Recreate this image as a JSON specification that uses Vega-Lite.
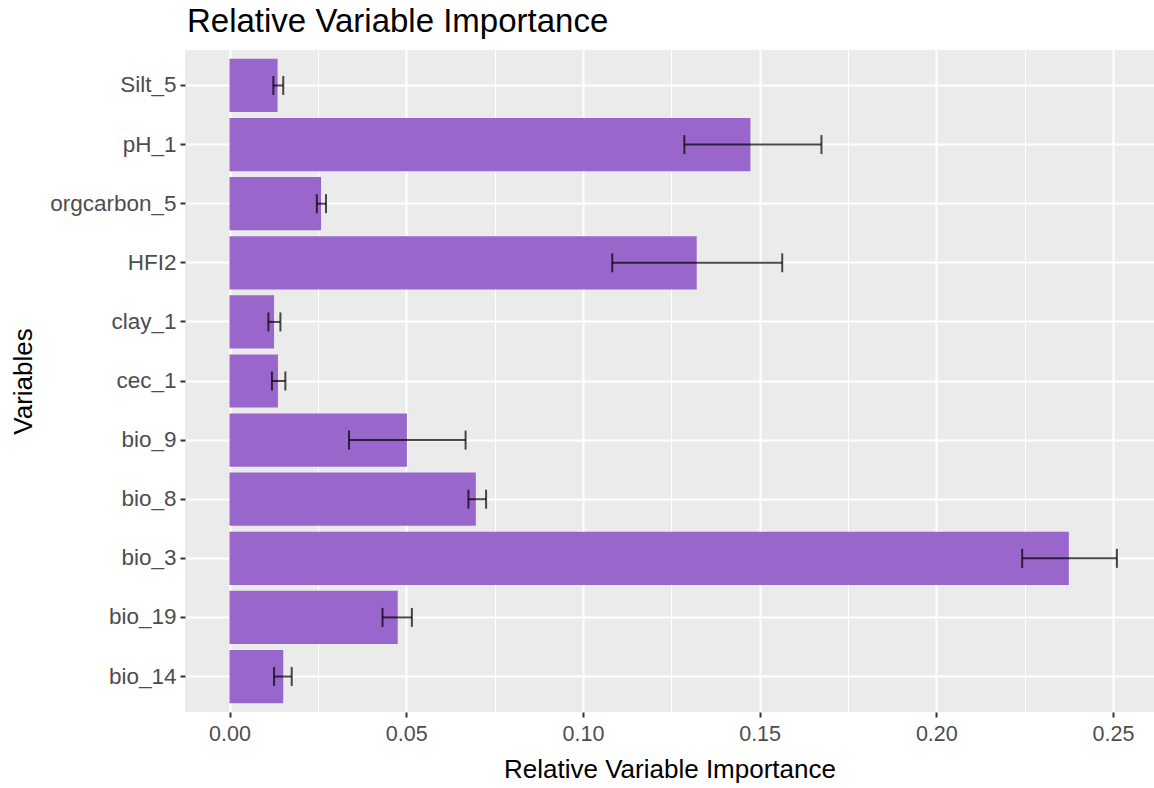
{
  "$schema": "https://vega.github.io/schema/vega-lite/v6.json",
  "width": 969,
  "height": 662,
  "autosize": {"type": "none"},
  "padding": {"left": 185, "top": 50, "right": 0, "bottom": 76},
  "background": "white",
  "title": {
    "text": "Relative Variable Importance",
    "anchor": "start",
    "frame": "group",
    "fontSize": 33,
    "font": "Liberation Sans",
    "fontWeight": "normal",
    "color": "black",
    "baseline": "alphabetic",
    "offset": 17,
    "dx": 2,
    "dy": 32
  },
  "config": {
    "view": {"fill": "#EBEBEB", "stroke": null},
    "font": "Liberation Sans"
  },
  "data": {
    "values": [
      {"var": "Silt_5", "imp": 0.0136, "lo": 0.0124, "hi": 0.0152},
      {"var": "pH_1", "imp": 0.1474, "lo": 0.1287, "hi": 0.1675},
      {"var": "orgcarbon_5", "imp": 0.0259, "lo": 0.0247, "hi": 0.0273},
      {"var": "HFI2", "imp": 0.1322, "lo": 0.1083, "hi": 0.1564},
      {"var": "clay_1", "imp": 0.0126, "lo": 0.011, "hi": 0.0144},
      {"var": "cec_1", "imp": 0.0137, "lo": 0.012, "hi": 0.0158},
      {"var": "bio_9", "imp": 0.0502, "lo": 0.0338, "hi": 0.0668},
      {"var": "bio_8", "imp": 0.0697, "lo": 0.0676, "hi": 0.0726},
      {"var": "bio_3", "imp": 0.2375, "lo": 0.2243, "hi": 0.2511},
      {"var": "bio_19", "imp": 0.0476, "lo": 0.0433, "hi": 0.0516},
      {"var": "bio_14", "imp": 0.0152, "lo": 0.0126, "hi": 0.0176}
    ]
  },
  "encoding": {
    "y": {
      "field": "var",
      "type": "nominal",
      "sort": ["Silt_5", "pH_1", "orgcarbon_5", "HFI2", "clay_1", "cec_1", "bio_9", "bio_8", "bio_3", "bio_19", "bio_14"],
      "scale": {"paddingInner": 0.1, "paddingOuter": 0.15},
      "axis": {
        "title": "Variables",
        "titleFontSize": 26,
        "titleFontWeight": "normal",
        "titleColor": "black",
        "titlePadding": 13,
        "labelFontSize": 22.5,
        "labelColor": "#4d4d4d",
        "labelPadding": 4,
        "tickColor": "#333333",
        "tickSize": 5,
        "tickWidth": 2,
        "domain": false,
        "grid": true,
        "gridColor": "white",
        "gridWidth": 2,
        "bandPosition": 0.5
      }
    }
  },
  "layer": [
    {
      "mark": {"type": "bar", "color": "#9966cc"},
      "encoding": {
        "x": {
          "field": "imp",
          "type": "quantitative",
          "scale": {"domain": [-0.0126, 0.2616], "nice": false, "zero": false},
          "axis": {
            "orient": "top",
            "values": [0.025, 0.075, 0.125, 0.175, 0.225],
            "labels": false,
            "ticks": false,
            "domain": false,
            "title": null,
            "grid": true,
            "gridColor": "white",
            "gridWidth": 1
          }
        }
      }
    },
    {
      "mark": {"type": "rule", "color": "black", "opacity": 0.7, "strokeWidth": 2},
      "encoding": {
        "x": {
          "field": "lo",
          "type": "quantitative",
          "axis": {
            "orient": "bottom",
            "values": [0, 0.05, 0.1, 0.15, 0.2, 0.25],
            "format": ".2f",
            "title": "Relative Variable Importance",
            "titleFontSize": 26,
            "titleFontWeight": "normal",
            "titleColor": "black",
            "titlePadding": 12,
            "labelFontSize": 21.5,
            "labelColor": "#4d4d4d",
            "labelPadding": 6,
            "tickColor": "#333333",
            "tickSize": 5,
            "tickWidth": 2,
            "domain": false,
            "grid": true,
            "gridColor": "white",
            "gridWidth": 2
          }
        },
        "x2": {"field": "hi"}
      }
    },
    {
      "mark": {"type": "tick", "orient": "vertical", "color": "black", "opacity": 0.7, "size": 19, "thickness": 2},
      "encoding": {"x": {"field": "lo", "type": "quantitative", "axis": null}}
    },
    {
      "mark": {"type": "tick", "orient": "vertical", "color": "black", "opacity": 0.7, "size": 19, "thickness": 2},
      "encoding": {"x": {"field": "hi", "type": "quantitative", "axis": null}}
    }
  ],
  "resolve": {"axis": {"x": "independent"}}
}
